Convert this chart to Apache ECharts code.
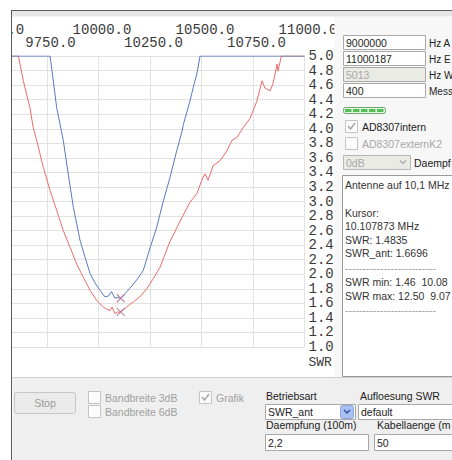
<!DOCTYPE html>
<html><head><meta charset="utf-8">
<script src="https://cdn.jsdelivr.net/npm/echarts@6/dist/echarts.min.js"></script>
<style>html,body{margin:0;padding:0;background:#fff;}#c{width:452px;height:460px;}</style>
</head><body><div id="c"></div>
<script>
// ---- data (frequency in kHz, SWR) ----
const swrAntFreq = [9500, 9765, 9797, 9829, 9853, 9878, 9910, 9934, 9959, 9983, 10007, 10031, 10048, 10063, 10080, 10094, 10108, 10125, 10137, 10153, 10185, 10217, 10250, 10283, 10315, 10347, 10380, 10405, 10412, 10444, 10460, 10477, 10493, 11000];
const swrAntValues = [5.0, 5.0, 4.29, 3.84, 3.38, 2.92, 2.47, 2.24, 2.01, 1.88, 1.78, 1.69, 1.70, 1.76, 1.67, 1.68, 1.67, 1.72, 1.76, 1.81, 1.92, 2.05, 2.36, 2.65, 3.01, 3.33, 3.70, 3.96, 4.06, 4.38, 4.57, 4.75, 5.0, 5.0];
const swrFreq = [9500, 9611, 9635, 9667, 9683, 9700, 9732, 9765, 9797, 9829, 9862, 9894, 9926, 9959, 9991, 10023, 10040, 10056, 10066, 10080, 10092, 10104, 10120, 10137, 10169, 10201, 10234, 10266, 10299, 10347, 10396, 10444, 10478, 10501, 10517, 10532, 10556, 10590, 10624, 10648, 10672, 10701, 10735, 10769, 10794, 10808, 10833, 10847, 10867, 10871, 10888, 11000];
const swrValues = [5.0, 5.0, 4.66, 4.29, 4.02, 3.84, 3.47, 3.15, 2.88, 2.60, 2.37, 2.14, 1.96, 1.78, 1.64, 1.55, 1.52, 1.50, 1.55, 1.46, 1.48, 1.48, 1.51, 1.55, 1.62, 1.69, 1.80, 1.94, 2.10, 2.45, 2.73, 2.99, 3.11, 3.29, 3.38, 3.29, 3.49, 3.56, 3.70, 3.84, 3.88, 4.01, 4.14, 4.38, 4.66, 4.56, 4.52, 4.62, 4.89, 4.79, 5.0, 5.0];
const cursorFreq = [10107.873, 10107.873];
const cursorValues = [1.6696, 1.4835];
const xUpperRowTicks = [9500, 10000, 10500, 11000];
const xLowerRowTicks = [9750, 10250, 10750];
const freqInputs = ['9000000', '11000187', '5013', '400'];
const freqInputLabels = ['Hz A', 'Hz E', 'Hz W', 'Mess'];

const UI_FONT = '10.5px "Liberation Sans"';
const AX_FONT = 'Liberation Mono';
const els = [];
function rect(x, y, w, h, fill, stroke, z, r) {
  els.push({type: 'rect', silent: true, z: z || 60,
    shape: {x: x + 0.5, y: y + 0.5, width: w, height: h, r: r || 0},
    style: {fill: fill, stroke: stroke || null, lineWidth: 1}});
}
function line(x1, y1, x2, y2, color, z) {
  els.push({type: 'line', silent: true, z: z || 70,
    shape: {x1: x1, y1: y1, x2: x2, y2: y2}, style: {stroke: color, lineWidth: 1}});
}
function text(x, y, s, color, align, font) {
  els.push({type: 'text', silent: true, z: 80, x: x, y: y,
    style: {text: s, fill: color || '#222', font: font || UI_FONT,
      align: align || 'left', verticalAlign: 'middle',
      textAlign: align || 'left', textVerticalAlign: 'middle'}});
}
function check(x, y, color) {
  els.push({type: 'polyline', silent: true, z: 80,
    shape: {points: [[x + 3, y + 6], [x + 5.5, y + 9], [x + 10, y + 3]]},
    style: {stroke: color, lineWidth: 1.5, fill: null}});
}
function checkbox(x, y, checked, label, labelColor) {
  rect(x, y, 12, 12, '#fbfbfb', '#c4c4c4');
  if (checked) check(x, y, '#a8a8a8');
  text(x + 17, y + 6.5, label, labelColor);
}
function chevron(x, y, color) {
  els.push({type: 'polyline', silent: true, z: 81,
    shape: {points: [[x - 3, y - 1.5], [x, y + 1.5], [x + 3, y - 1.5]]},
    style: {stroke: color, lineWidth: 1.5, fill: null}});
}

// frame: white outside, dark border, top band
rect(-1, -1, 12, 462, '#ffffff', null, 100);
rect(11, 10, 442, 6, '#e6e6e6', null, 90);
line(11, 10.5, 452, 10.5, '#5a5a5a', 101);
line(11.5, 10, 11.5, 460, '#5a5a5a', 101);

// right panel
rect(334, 16, 119, 361, '#f7f7f7', null, 50);
freqInputs.forEach(function (v, i) {
  const y = 35 + i * 16;
  const disabled = i === 2;
  rect(343, y, 82, 14, disabled ? '#ebebe6' : '#ffffff', '#a8a8a8');
  text(346, y + 8, v, disabled ? '#a8a8a8' : '#222');
  text(429, y + 8, freqInputLabels[i], '#222', 'left', '10px "Liberation Sans"');
});
rect(343, 107, 42, 6, '#e8f4e8', '#6aa86a', 60, 2);
for (let k = 0; k < 5; k++) rect(344.5 + k * 8, 108.5, 6.5, 3, '#55c055', null, 61);
checkbox(345, 120, true, 'AD8307intern', '#222');
checkbox(345, 137, false, 'AD8307externK2', '#a8a8a8');
rect(343, 155, 67, 14, '#ebebe6', '#b8b8b8');
text(346, 162.5, '0dB', '#a8a8a8');
chevron(403, 162, '#b0b0b0');
text(414, 162.5, 'Daempf', '#222');
rect(342, 175, 115, 201, '#ffffff', '#9a9a9a');
const dashes = '--------------------------';
const info = [
  ['Antenne auf 10,1 MHz', 185],
  ['Kursor:', 213],
  [(cursorFreq[0] / 1000).toFixed(6) + ' MHz', 226],
  ['SWR: ' + cursorValues[1].toFixed(4), 240],
  ['SWR_ant: ' + cursorValues[0].toFixed(4), 253],
  [dashes, 268],
  ['SWR min: 1.46  10.08', 282],
  ['SWR max: 12.50  9.07', 296],
  [dashes, 310]
];
info.forEach(function (r) { text(345, r[1], r[0], r[0][0] === '-' ? '#a0a0a0' : '#333'); });

// bottom panel
rect(12, 377, 441, 84, '#efefef', null, 50);
line(12, 377.5, 452, 377.5, '#d0d0d0', 70);
rect(14, 392, 61, 21, '#ebebeb', '#c6c6c6', 60, 2);
text(45, 402.5, 'Stop', '#9a9a9a', 'center');
checkbox(88, 391, false, 'Bandbreite 3dB', '#a0a0a0');
checkbox(88, 405, false, 'Bandbreite 6dB', '#a0a0a0');
checkbox(199, 391, true, 'Grafik', '#a0a0a0');
text(266, 396, 'Betriebsart', '#222');
rect(265, 404, 90, 15, '#ffffff', '#a8a8a8');
text(268, 412, 'SWR_ant', '#222');
rect(340, 405, 13, 13, '#a9c0f0', '#8aa6e0', 61, 2);
chevron(347, 411.5, '#3050a0');
text(360, 396, 'Aufloesung SWR', '#222');
rect(358, 404, 100, 15, '#ffffff', '#a8a8a8');
text(361, 412, 'default', '#222');
text(266, 425, 'Daempfung (100m)', '#222');
rect(265, 434, 103, 16, '#ffffff', '#a8a8a8');
text(268, 442.5, '2,2', '#222');
text(377, 425, 'Kabellaenge (m', '#222');
rect(374, 434, 90, 16, '#ffffff', '#a8a8a8');
text(377, 442.5, '50', '#222');

function xAxisFor(rowTicks, margin, withGrid) {
  return {
    type: 'value', position: 'top', min: 9500, max: 11000, interval: 250,
    axisLine: {show: false}, axisTick: {show: false},
    splitLine: {show: withGrid, lineStyle: {color: '#e2e2e2', width: 1}},
    axisLabel: {
      showMinLabel: true, showMaxLabel: true, hideOverlap: false,
      margin: margin, fontFamily: AX_FONT, fontSize: 14, color: '#3a3a3a',
      padding: [0, 0, 0, 7],
      formatter: function (v) { return rowTicks.indexOf(Math.round(v)) >= 0 ? v.toFixed(1) : ''; }
    }
  };
}

const chart = echarts.init(document.getElementById('c'), null, {renderer: 'svg', width: 452, height: 460});
chart.setOption({
  animation: false,
  backgroundColor: '#ffffff',
  grid: {left: -4.5, top: 56, width: 309, height: 291, containLabel: false, outerBoundsMode: 'none'},
  xAxis: [xAxisFor(xUpperRowTicks, 19, true), xAxisFor(xLowerRowTicks, 6, false)],
  yAxis: {
    type: 'value', position: 'right', min: 1, max: 5, interval: 0.2,
    axisLine: {show: false}, axisTick: {show: false},
    splitLine: {show: true, lineStyle: {color: '#e2e2e2', width: 1}},
    axisLabel: {margin: 4, align: 'left', fontFamily: AX_FONT, fontSize: 14, color: '#3a3a3a',
      showMinLabel: true, showMaxLabel: true,
      formatter: function (v) { return v.toFixed(1); }},
    name: 'SWR', nameLocation: 'start', nameGap: 15,
    nameTextStyle: {fontFamily: AX_FONT, fontSize: 13, color: '#3a3a3a', align: 'left', verticalAlign: 'middle', padding: [0, 0, 0, 4]}
  },
  series: [
    {type: 'line', name: 'SWR', showSymbol: false, z: 3, xAxisIndex: 0,
      lineStyle: {color: '#ec6a6a', width: 1}, itemStyle: {color: '#ec6a6a'},
      data: swrFreq.map(function (f, i) { return [f, swrValues[i]]; })},
    {type: 'line', name: 'SWR_ant', showSymbol: false, z: 4, xAxisIndex: 0,
      lineStyle: {color: '#5879c0', width: 1}, itemStyle: {color: '#5879c0'},
      data: swrAntFreq.map(function (f, i) { return [f, swrAntValues[i]]; })},
    {type: 'scatter', name: 'Kursor', z: 5, xAxisIndex: 0, symbol: 'path://M0,0L10,10M10,0L0,10', symbolSize: 8,
      itemStyle: {color: 'rgba(0,0,0,0)', borderColor: '#b0708e', borderWidth: 1.2},
      data: cursorFreq.map(function (f, i) { return [f, cursorValues[i]]; })}
  ],
  graphic: {elements: els}
});
</script>
</body></html>
